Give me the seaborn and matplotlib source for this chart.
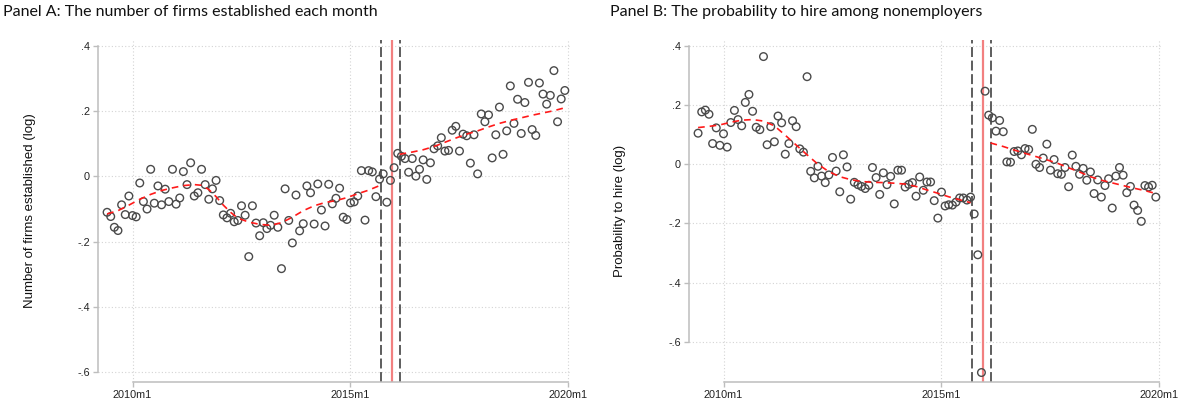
import numpy as np
import pandas as pd
import matplotlib
matplotlib.use("Agg")
import matplotlib.pyplot as plt
import seaborn as sns

# ---------------- data ----------------
first_month = "2009-06"
last_month = "2019-12"

firms_log = [
    -0.110, -0.123, -0.156, -0.166, -0.087, -0.117, -0.060,  # 2009m6-m12
    -0.120, -0.124, -0.020, -0.077, -0.100, 0.022, -0.082, -0.029, -0.087, -0.039, -0.077, 0.022,  # 2010
    -0.085, -0.066, 0.015, -0.025, 0.042, -0.060, -0.050, 0.022, -0.025, -0.070, -0.038, -0.012,  # 2011
    -0.074, -0.118, -0.127, -0.113, -0.139, -0.135, -0.090, -0.119, -0.246, -0.090, -0.143, -0.182,  # 2012
    -0.142, -0.160, -0.150, -0.119, -0.156, -0.283, -0.038, -0.135, -0.204, -0.057, -0.167, -0.145,  # 2013
    -0.029, -0.050, -0.146, -0.023, -0.103, -0.152, -0.024, -0.084, -0.067, -0.036, -0.125, -0.132,  # 2014
    -0.081, -0.078, -0.060, 0.018, -0.134, 0.018, 0.014, -0.062, -0.008, 0.008, -0.079, -0.012,  # 2015
    0.027, 0.071, 0.062, 0.055, 0.013, 0.055, 0.001, 0.022, 0.051, -0.009, 0.042, 0.085,  # 2016
    0.094, 0.119, 0.078, 0.080, 0.142, 0.154, 0.078, 0.130, 0.125, 0.041, 0.128, 0.008,  # 2017
    0.192, 0.168, 0.189, 0.057, 0.128, 0.213, 0.068, 0.140, 0.278, 0.163, 0.237, 0.132,  # 2018
    0.227, 0.289, 0.144, 0.126, 0.287, 0.253, 0.222, 0.249, 0.325, 0.168, 0.238, 0.264,  # 2019
]

hire_log = [
    0.105, 0.177, 0.183, 0.169, 0.070, 0.123, 0.064,  # 2009m6-m12
    0.103, 0.058, 0.141, 0.182, 0.151, 0.130, 0.209, 0.236, 0.179, 0.125, 0.117, 0.364,  # 2010
    0.066, 0.127, 0.076, 0.163, 0.140, 0.034, 0.070, 0.147, 0.127, 0.052, 0.041, 0.296,  # 2011
    -0.024, -0.046, -0.007, -0.040, -0.062, -0.036, 0.023, -0.023, -0.093, 0.032, -0.009, -0.118,  # 2012
    -0.061, -0.069, -0.075, -0.082, -0.071, -0.011, -0.045, -0.102, -0.029, -0.069, -0.041, -0.134,  # 2013
    -0.020, -0.020, -0.077, -0.068, -0.062, -0.108, -0.043, -0.088, -0.060, -0.060, -0.123, -0.182,  # 2014
    -0.094, -0.141, -0.137, -0.138, -0.128, -0.114, -0.114, -0.121, -0.111, -0.168, -0.306, -0.704,  # 2015
    0.247, 0.166, 0.157, 0.112, 0.148, 0.110, 0.008, 0.007, 0.043, 0.045, 0.032, 0.053,  # 2016
    0.050, 0.118, 0.000, -0.011, 0.021, 0.068, -0.020, 0.016, -0.032, -0.034, -0.011, -0.076,  # 2017
    0.031, -0.007, -0.034, -0.014, -0.054, -0.026, -0.099, -0.053, -0.111, -0.072, -0.049, -0.148,  # 2018
    -0.040, -0.011, -0.037, -0.096, -0.075, -0.138, -0.156, -0.193, -0.072, -0.077, -0.071, -0.111,  # 2019
]

# fitted (local) trends, x = months since 2010m1
fitA_pre_x = [-7, -4, -1, 2, 5, 8, 11, 14, 17, 19, 21, 23, 25, 27, 29, 32, 35, 38, 41, 44, 47, 50, 53, 56, 59, 62, 65, 68]
fitA_pre_y = [-0.115, -0.105, -0.088, -0.070, -0.055, -0.043, -0.035, -0.028, -0.025, -0.027, -0.040, -0.062,
              -0.088, -0.110, -0.128, -0.140, -0.147, -0.150, -0.142, -0.125, -0.105, -0.090, -0.080, -0.074,
              -0.065, -0.053, -0.042, -0.028]
fitA_post_x = [73.5, 77, 80, 83, 86, 89, 92, 95, 98, 101, 104, 107, 110, 113, 116, 119]
fitA_post_y = [0.068, 0.075, 0.082, 0.092, 0.105, 0.118, 0.130, 0.140, 0.152, 0.163, 0.172, 0.180, 0.188,
               0.195, 0.202, 0.211]

fitB_pre_x = [-7, -4, -1, 2, 5, 8, 11, 14, 17, 20, 23, 26, 29, 32, 35, 38, 41, 44, 47, 50, 53, 56, 59, 62, 65, 68]
fitB_pre_y = [0.124, 0.128, 0.133, 0.142, 0.149, 0.151, 0.146, 0.130, 0.098, 0.065, 0.032, 0.000, -0.025,
              -0.042, -0.052, -0.058, -0.061, -0.062, -0.064, -0.067, -0.075, -0.087, -0.098, -0.110,
              -0.120, -0.130]
fitB_post_x = [73.5, 77, 80, 83, 86, 89, 92, 95, 98, 101, 104, 107, 110, 113, 116, 119]
fitB_post_y = [0.072, 0.060, 0.048, 0.037, 0.026, 0.015, 0.003, -0.012, -0.026, -0.042, -0.054, -0.063,
               -0.072, -0.081, -0.089, -0.099]

# event markers (months since 2010m1)
event_window = [68.4, 73.5]
event_month = 71.5

xtick_pos = [0, 60, 120]
xtick_labels = ["2010m1", "2015m1", "2020m1"]
ytick_vals = [-0.6, -0.4, -0.2, 0.0, 0.2, 0.4]
ytick_labels = ["-.6", "-.4", "-.2", "0", ".2", ".4"]

titleA = "Panel A: The number of firms established each month"
titleB = "Panel B: The probability to hire among nonemployers"
ylabelA = "Number of firms established (log)"
ylabelB = "Probability to hire (log)"

# ---------------- build frames ----------------
periods = pd.period_range(first_month, last_month, freq="M")
base = pd.Period("2010-01", freq="M")
month_idx = np.array([(p - base).n for p in periods])
dfA = pd.DataFrame({"m": month_idx, "v": firms_log})
dfB = pd.DataFrame({"m": month_idx, "v": hire_log})

# ---------------- style ----------------
sns.set_theme(style="white")
plt.rcParams["font.family"] = ["Liberation Sans", "DejaVu Sans"]

W, H = 1179, 403
fig = plt.figure(figsize=(W / 100, H / 100), dpi=100)

SPINE = "#bdbdbd"
GRID = "#d4d4d4"


def make_panel(left_px, right_px, df, pre_x, pre_y, post_x, post_y, ylim, ylabel, label_x_px):
    top_px, bot_px = 40, 382
    ax = fig.add_axes([left_px / W, 1 - bot_px / H, (right_px - left_px) / W, (bot_px - top_px) / H])
    ax.set_xlim(-9.5, 120.7)
    ax.set_ylim(*ylim)
    ax.set_xticks(xtick_pos, xtick_labels)
    ax.set_yticks(ytick_vals, ytick_labels)
    ax.grid(True, linestyle=(0, (1, 2)), color=GRID, linewidth=0.8)
    ax.set_axisbelow(True)

    for xv in event_window:
        ax.axvline(xv, color="#505050", linewidth=1.3, linestyle=(0, (5.5, 2)), zorder=2)
    ax.axvline(event_month, color="#f28080", linewidth=1.6, zorder=2)

    sns.scatterplot(data=df, x="m", y="v", ax=ax, marker="o", s=30,
                    facecolor="none", edgecolor="#4a4a4a", linewidth=1.0, zorder=3)
    fit_kw = dict(color="#ff1a1a", linewidth=1.2, ax=ax, zorder=4)
    sns.lineplot(x=pre_x, y=pre_y, **fit_kw).lines[-1].set_linestyle((0, (4, 3)))
    sns.lineplot(x=post_x, y=post_y, **fit_kw).lines[-1].set_linestyle((0, (4, 3)))

    ax.set_xlabel("")
    ax.set_ylabel(ylabel, fontsize=9.5, color="#111111")
    ax.yaxis.label.set_verticalalignment("center")
    ax.yaxis.set_label_coords((label_x_px - left_px) / (right_px - left_px), 0.5)

    sns.despine(ax=ax, trim=True)
    for s in ("left", "bottom"):
        ax.spines[s].set_color(SPINE)
        ax.spines[s].set_linewidth(1.1)
    ax.tick_params(axis="both", which="both", bottom=True, left=True, direction="out",
                   length=3.5, width=1.0, color=SPINE, labelsize=7.8, labelcolor="#222222", pad=2.5)
    return ax


axA = make_panel(98, 571, dfA, fitA_pre_x, fitA_pre_y, fitA_post_x, fitA_post_y,
                 (-0.631, 0.419), ylabelA, 30)
axB = make_panel(689, 1162, dfB, fitB_pre_x, fitB_pre_y, fitB_post_x, fitB_post_y,
                 (-0.736, 0.42), ylabelB, 620)

fig.text(3 / W, 1 - 12 / H, titleA, ha="left", va="center", fontsize=11.5, family=["Lato", "DejaVu Sans"], color="#111111")
fig.text(610 / W, 1 - 12 / H, titleB, ha="left", va="center", fontsize=11.5, family=["Lato", "DejaVu Sans"], color="#111111")

fig.savefig("out.png", dpi=100)
